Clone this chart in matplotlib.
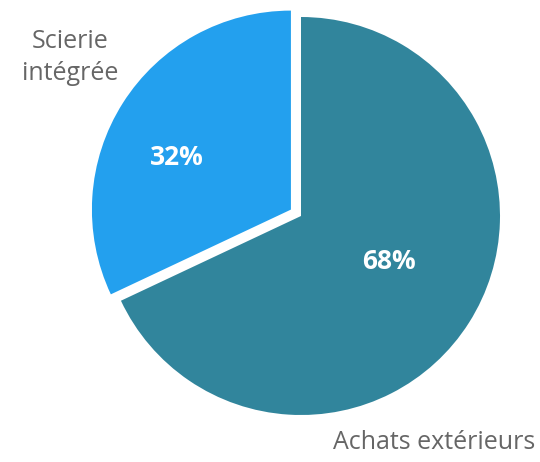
import matplotlib
matplotlib.use("Agg")
from matplotlib import pyplot as plt
import numpy as np

labels = ["Achats extérieurs", "Scierie\nintégrée"]
values = [68, 32]
colors = ["#31859c", "#23a0ee"]
explode = [0, 0.06]

plt.rcParams['font.family'] = ['Open Sans', 'DejaVu Sans']

fig = plt.figure(figsize=(5.4, 4.62), dpi=100)
R = 199
ax = fig.add_axes([(301 - R) / 540, (246 - R) / 462, 2 * R / 540, 2 * R / 462])

wedges, texts = ax.pie(values, colors=colors, explode=explode, startangle=90,
                       counterclock=False, wedgeprops=dict(linewidth=0))

# percentages inside the slices
for w, v, d, shift in zip(wedges, values, [0.5, 0.63], [5, 8]):
    ang = np.deg2rad((w.theta1 + w.theta2) / 2 + shift)
    cx, cy = w.center
    ax.text(cx + d * np.cos(ang), cy + d * np.sin(ang), f"{v}%", color="white",
            fontsize=19, fontweight="bold", ha="center", va="center")

ax.text(-1.16, 0.795, labels[1], color="#666666", fontsize=18, ha="center", va="center",
        linespacing=1.35)
ax.text(0.67, -1.14, labels[0], color="#666666", fontsize=18, ha="center", va="center")

ax.set_xlim(-1, 1)
ax.set_ylim(-1, 1)
ax.set_aspect("equal")
ax.axis("off")

plt.savefig("out.png", dpi=100)
